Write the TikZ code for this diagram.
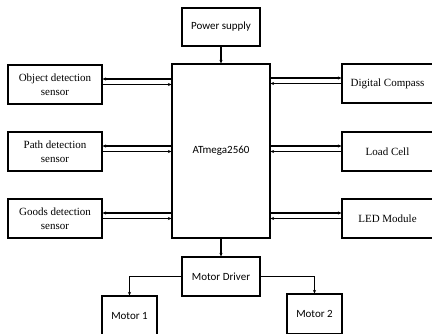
\documentclass[tikz,border=0pt]{standalone}
\usepackage{fontspec}
\setmainfont{Liberation Serif}
\newfontfamily\calfont{Carlito}
\usetikzlibrary{arrows.meta}
\tikzset{
  box/.style={draw, line width=1.2pt, inner sep=0pt, align=center, font=\fontsize{11}{13.5}\selectfont},
  sbox/.style={box, font=\calfont\fontsize{11}{13.5}\selectfont},
  arr/.style={line width=1.1pt, -{Stealth[length=3.5pt,width=3.2pt]}}
}
\begin{document}
\begin{tikzpicture}[x=1pt,y=-1pt]
\useasboundingbox (0,0) rectangle (432,333);
\clip (0,0) rectangle (432,333);
\node[sbox, minimum width=78pt, minimum height=38pt] (power) at (221,27) {Power supply};
\node[sbox, minimum width=98pt, minimum height=174pt] (mcu) at (221,151) {ATmega2560};
\node[box, minimum width=94pt, minimum height=39pt] (obj) at (55,84.5) {Object detection\\sensor};
\node[box, minimum width=94pt, minimum height=39pt] (path) at (55,151.5) {Path detection\\sensor};
\node[box, minimum width=94pt, minimum height=39pt] (goods) at (55,218.5) {Goods detection\\sensor};
\node[box, minimum width=91pt, minimum height=39pt] (comp) at (387.5,83.5) {Digital Compass};
\node[box, minimum width=91pt, minimum height=39pt] (load) at (387.5,151.5) {Load Cell};
\node[box, minimum width=91pt, minimum height=39pt] (led) at (387.5,218.5) {LED Module};
\node[sbox, minimum width=78pt, minimum height=39pt] (drv) at (221,276.5) {Motor Driver};
\node[sbox, minimum width=55pt, minimum height=40pt] (m1) at (129.5,316) {Motor 1};
\node[sbox, minimum width=55pt, minimum height=40pt] (m2) at (314.5,314) {Motor 2};
% vertical
\draw[arr] (power.south) -- (mcu.north);
\draw[arr] (mcu.south) -- (drv.north);
% left sensors
\foreach \s in {obj,path,goods}{
  \draw[arr] ([yshift=5.5pt]\s.east -| mcu.west) -- ([yshift=5.5pt]\s.east);
  \draw[arr] ([yshift=0pt]\s.east) -- ([yshift=0pt]\s.east -| mcu.west);
}
% right modules
\foreach \s in {comp,load,led}{
  \draw[arr] ([yshift=5.5pt]\s.west -| mcu.east) -- ([yshift=5.5pt]\s.west);
  \draw[arr] ([yshift=0pt]\s.west) -- ([yshift=0pt]\s.west -| mcu.east);
}
% motors
\draw[arr] (drv.west) -| (m1.north);
\draw[arr] (drv.east) -| (m2.north);
\end{tikzpicture}
\end{document}
